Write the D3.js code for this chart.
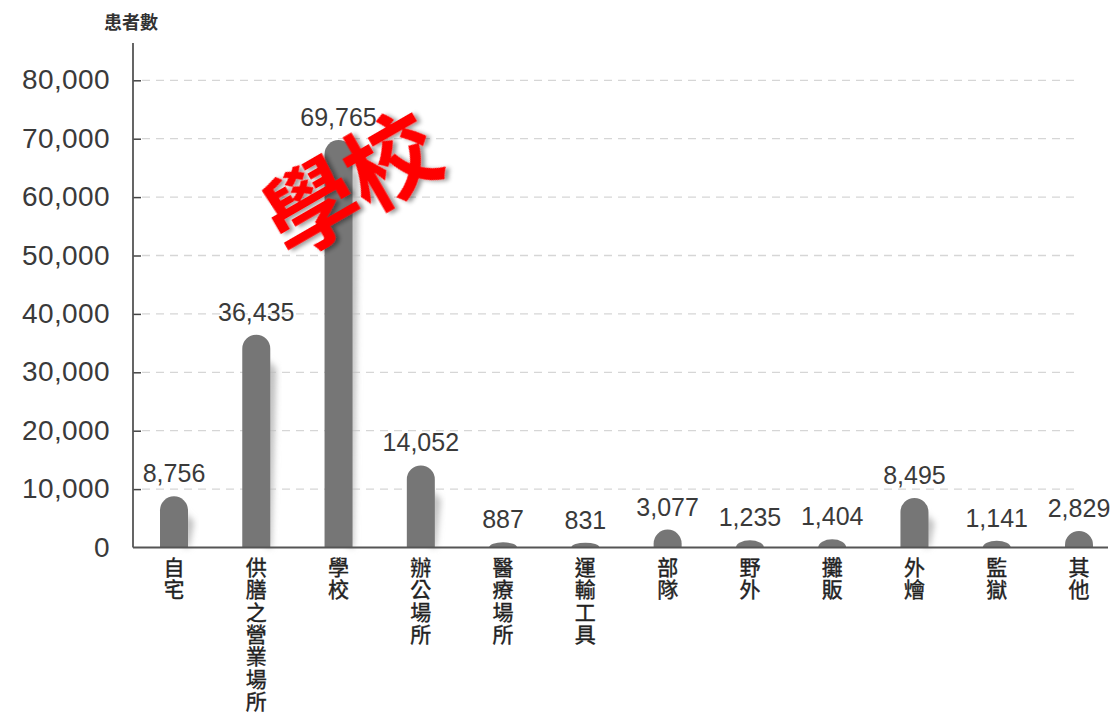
<!DOCTYPE html>
<html><head><meta charset="utf-8">
<script src="https://cdn.jsdelivr.net/npm/d3@7"></script>
<style>body{margin:0;background:#fff}svg{display:block}</style>
</head><body>
<svg id="c" width="1110" height="715"></svg>
<script>
const categories = ["自宅","供膳之營業場所","學校","辦公場所","醫療場所","運輸工具","部隊","野外","攤販","外燴","監獄","其他"];
const values = [8756,36435,69765,14052,887,831,3077,1235,1404,8495,1141,2829];
const yTicks = [0,10000,20000,30000,40000,50000,60000,70000,80000];
const yTitle = "患者數";
const stamp = "學校";

const svg = d3.select("#c");
const defs = svg.append("defs");
defs.append("filter").attr("id","blur").attr("x","-50%").attr("y","-50%").attr("width","200%").attr("height","200%")
  .append("feGaussianBlur").attr("stdDeviation",3);
const ds = defs.append("filter").attr("id","ds").attr("x","-20%").attr("y","-20%").attr("width","140%").attr("height","140%");
ds.append("feDropShadow").attr("dx",3).attr("dy",3).attr("stdDeviation",2).attr("flood-color","#000").attr("flood-opacity",0.4);

const x0 = 133, xEnd = 1108, yBase = 547.5, yTop = 80.3;
const y = d3.scaleLinear().domain([0,80000]).range([yBase,yTop]);
const x = d3.scalePoint().domain(categories).range([174,1079]);
const bw = 28;

// gridlines
svg.append("g").selectAll("line").data(yTicks.filter(d=>d>0)).join("line")
  .attr("x1",x0+9).attr("x2",1078).attr("y1",d=>y(d)).attr("y2",d=>y(d))
  .attr("stroke","#d6d6d6").attr("stroke-width",1.3).attr("stroke-dasharray","8,6");

// y axis
const ax = svg.append("g").attr("transform",`translate(${x0},0)`)
  .call(d3.axisRight(y).tickValues(yTicks).tickSize(8).tickFormat(""));
ax.select(".domain").remove();
ax.selectAll(".tick line").attr("stroke","#444").attr("stroke-width",1.5);
ax.selectAll(".tick").filter(d=>d===0).remove();
svg.append("line").attr("x1",x0).attr("x2",x0).attr("y1",43).attr("y2",yBase).attr("stroke","#555").attr("stroke-width",1.8);

svg.append("g").selectAll("text").data(yTicks).join("text")
  .attr("x",110).attr("y",d=>y(d)+9).attr("text-anchor","end")
  .attr("font-family","Liberation Sans, Arial, sans-serif").attr("font-size",28).attr("letter-spacing",0.4).attr("fill","#3a3a3a")
  .text(d=>d3.format(",")(d));

svg.append("text").attr("x",131).attr("y",29).attr("text-anchor","middle")
  .attr("font-family","Noto Sans CJK TC").attr("font-weight","bold").attr("font-size",18).attr("fill","#333").text(yTitle);

// bar shadows
svg.append("g").selectAll("path").data(categories).join("path")
  .attr("d",(c,i)=>{
    const h = yBase - y(values[i]);
    if (h < 20) return "";
    const cx = x(c), top = y(values[i]) + Math.min(24, h*0.3);
    return `M${cx+bw/2-4},${top} L${cx+bw/2+6},${top+10} L${cx+bw/2+1},${yBase} L${cx+bw/2-4},${yBase} Z`;
  })
  .attr("fill","#bdbdbd").attr("filter","url(#blur)");

// bars with rounded tops
svg.append("g").selectAll("path").data(categories).join("path")
  .attr("d",(c,i)=>{
    const cx = x(c), top = y(values[i]), h = yBase - top;
    const r = bw/2, ry = Math.min(r, h);
    return `M${cx-r},${yBase} L${cx-r},${top+ry} A${r},${ry} 0 0 1 ${cx+r},${top+ry} L${cx+r},${yBase} Z`;
  })
  .attr("fill","#767676");

// baseline
svg.append("line").attr("x1",x0).attr("x2",xEnd).attr("y1",yBase).attr("y2",yBase).attr("stroke","#555").attr("stroke-width",2);

// value labels
svg.append("g").selectAll("text").data(categories).join("text")
  .attr("x",c=>x(c)).attr("y",(c,i)=>y(values[i])-14).attr("text-anchor","middle")
  .attr("font-family","Liberation Sans, Arial, sans-serif").attr("font-size",25).attr("fill","#3a3a3a")
  .text((c,i)=>d3.format(",")(values[i]));

// category labels (vertical)
const cg = svg.append("g");
categories.forEach(c=>{
  const t = cg.append("text").attr("text-anchor","middle")
    .attr("font-family","Noto Sans CJK TC").attr("font-weight","normal").attr("font-size",21).attr("fill","#222")
    .attr("stroke","#222").attr("stroke-width",0.4);
  Array.from(c).forEach((ch,k)=>{
    t.append("tspan").attr("x",x(c)).attr("y",575+k*22.3).text(ch);
  });
});

// red stamp text
svg.append("text").attr("transform","translate(348,178) rotate(-30)")
  .attr("text-anchor","middle").attr("dominant-baseline","central")
  .attr("font-family","Noto Sans CJK TC").attr("font-weight","bold").attr("font-size",92)
  .attr("fill","#ff0000").attr("filter","url(#ds)").text(stamp);
</script>
</body></html>
